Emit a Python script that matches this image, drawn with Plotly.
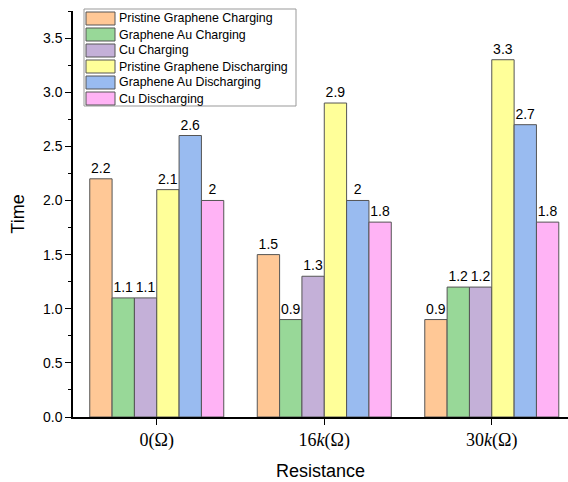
import plotly.graph_objects as go

categories = ["0(Ω)", "16<i>k</i>(Ω)", "30<i>k</i>(Ω)"]
series_names = ["Pristine Graphene Charging", "Graphene Au Charging", "Cu Charging",
                "Pristine Graphene Discharging", "Graphene Au Discharging", "Cu Discharging"]
pristine_charging = [2.2, 1.5, 0.9]
au_charging = [1.1, 0.9, 1.2]
cu_charging = [1.1, 1.3, 1.2]
pristine_discharging = [2.1, 2.9, 3.3]
au_discharging = [2.6, 2.0, 2.7]
cu_discharging = [2.0, 1.8, 1.8]
colors = ["#FFC896", "#98D898", "#C4B0D8", "#FFFF99", "#99BBF0", "#FFB3F5"]

series = [pristine_charging, au_charging, cu_charging,
          pristine_discharging, au_discharging, cu_discharging]

W, H = 568, 482
ML, MR, MT, MB = 73, 0, 11, 65
PW, PH = W - ML - MR, H - MT - MB


def px(x):
    return (x - ML) / PW


def py(y):
    return (H - MB - y) / PH


fig = go.Figure()
for name, vals, col in zip(series_names, series, colors):
    fig.add_trace(go.Bar(
        x=categories, y=vals, name=name, showlegend=False,
        marker=dict(color=col, line=dict(color="#555555", width=1)),
        text=[f"{v:g}" for v in vals], textposition="outside",
        textfont=dict(family="Arial", size=14, color="black"),
        cliponaxis=False,
    ))

# Manual legend (box, swatches, labels)
shapes = [dict(type="rect", xref="paper", yref="paper",
               x0=px(84), x1=px(296), y0=py(106), y1=py(9),
               line=dict(color="#999999", width=1), fillcolor="white", layer="above")]
annotations = []
for i, (name, col) in enumerate(zip(series_names, colors)):
    top = 12 + 16 * i
    shapes.append(dict(type="rect", xref="paper", yref="paper",
                       x0=px(86), x1=px(115), y0=py(top + 13), y1=py(top),
                       line=dict(color="#555555", width=1), fillcolor=col, layer="above"))
    annotations.append(dict(xref="paper", yref="paper", x=px(117), y=py(top + 6.5),
                            xanchor="left", yanchor="middle", text=name, showarrow=False,
                            font=dict(family="Arial", size=12.4, color="black")))

fig.update_layout(
    width=W, height=H,
    margin=dict(l=ML, r=MR, t=MT, b=MB),
    plot_bgcolor="white", paper_bgcolor="white",
    barmode="group", bargap=0.2, bargroupgap=0,
    font=dict(family="Arial", color="black"),
    showlegend=False,
    shapes=shapes, annotations=annotations,
    xaxis=dict(
        range=[-0.5, 2.455], showline=True, linecolor="black", linewidth=1.5,
        ticks="outside", ticklen=6, tickwidth=1.2, tickcolor="black",
        tickfont=dict(family="Liberation Serif", size=18),
        title=dict(text="Resistance", font=dict(family="Arial", size=18), standoff=14),
        showgrid=False, zeroline=False,
    ),
    yaxis=dict(
        range=[0, 3.75], showline=True, linecolor="black", linewidth=1.5,
        ticks="outside", ticklen=6, tickwidth=1.2, tickcolor="black",
        tick0=0, dtick=0.5, tickformat=".1f",
        minor=dict(ticks="outside", ticklen=3, dtick=0.25, tickcolor="black", tickwidth=1),
        tickfont=dict(family="Arial", size=14),
        title=dict(text="Time", font=dict(family="Arial", size=18), standoff=14),
        showgrid=False, zeroline=False,
    ),
)

fig.write_html("out.html")
